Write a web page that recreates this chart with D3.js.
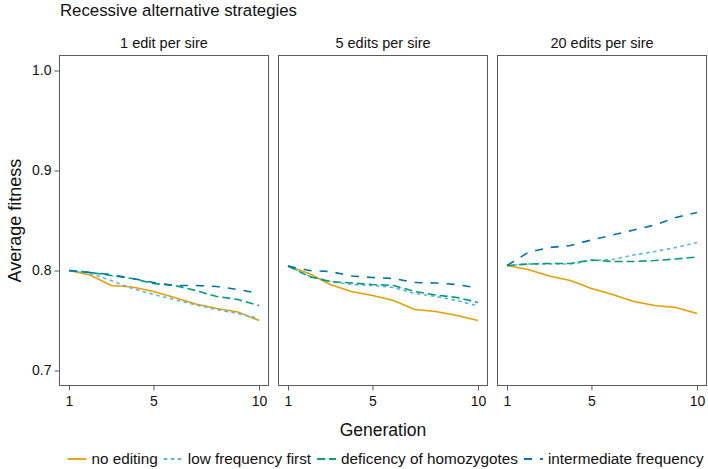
<!DOCTYPE html>
<html><head><meta charset="utf-8">
<script src="https://cdn.jsdelivr.net/npm/d3@7"></script>
<style>body{margin:0;background:#fff}svg{display:block}text{font-family:"Liberation Sans",Arial,Helvetica,sans-serif}</style>
</head><body><svg id="c" width="708" height="469"></svg>
<script>
const generations = [1,2,3,4,5,6,7,8,9,10];
const panelTitles = ["1 edit per sire","5 edits per sire","20 edits per sire"];
const strategies = ["no editing","low frequency first","deficency of homozygotes","intermediate frequency"];
const colors = ["#E69F00","#56B4E9","#009E73","#0072B2"];
const dashes = [null,"3.5,3.5","8,4","8,8"];
const yTicks = [0.7,0.8,0.9,1.0];
const xTicks = [1,5,10];
// values per panel [1 edit, 5 edits, 20 edits]
const noEditing = [
  [0.800,0.7955,0.785,0.7835,0.779,0.773,0.7665,0.762,0.7585,0.750],
  [0.8045,0.797,0.786,0.779,0.775,0.770,0.761,0.759,0.755,0.750],
  [0.805,0.801,0.7945,0.790,0.782,0.776,0.769,0.765,0.763,0.757]
];
const lowFrequencyFirst = [
  [0.800,0.797,0.790,0.782,0.776,0.771,0.7655,0.761,0.757,0.752],
  [0.8045,0.7945,0.789,0.786,0.785,0.783,0.777,0.774,0.770,0.7645],
  [0.805,0.8065,0.8065,0.8065,0.810,0.811,0.8155,0.819,0.823,0.828]
];
const deficiencyHomozygotes = [
  [0.800,0.798,0.795,0.792,0.787,0.785,0.780,0.774,0.771,0.765],
  [0.8045,0.794,0.789,0.7875,0.786,0.785,0.779,0.7755,0.773,0.768],
  [0.805,0.8065,0.807,0.807,0.8105,0.809,0.809,0.810,0.8115,0.8135]
];
const intermediateFrequency = [
  [0.800,0.798,0.796,0.792,0.788,0.785,0.785,0.784,0.781,0.777],
  [0.8045,0.800,0.799,0.7945,0.793,0.792,0.788,0.7875,0.786,0.7825],
  [0.805,0.818,0.823,0.825,0.8305,0.8355,0.8405,0.8455,0.853,0.858]
];
const seriesValues = [noEditing, lowFrequencyFirst, deficiencyHomozygotes, intermediateFrequency];

const svg = d3.select("#c");
const mLeft = 59.5, pw = 209, gap = 10, pTop = 55.5, pBottom = 385.5;
const grey = "#5a5a5a", txt = "#111";
const FF = '"Liberation Sans",Arial,sans-serif';
const y = d3.scaleLinear().domain([0.685,1.015]).range([pBottom, pTop]);

svg.append("text").attr("x",60).attr("y",16).attr("font-size",16.8).attr("fill",txt).text("Recessive alternative strategies");

panelTitles.forEach((title,p)=>{
  const x0 = mLeft + p*(pw+gap);
  const x = d3.scaleLinear().domain([0.55,10.45]).range([x0, x0+pw]);
  const g = svg.append("g");
  g.append("text").attr("x",x0+pw/2).attr("y",47.5).attr("text-anchor","middle").attr("font-size",14.5).attr("fill",txt).text(title);
  const line = d3.line().x((d,i)=>x(generations[i])).y(d=>y(d));
  seriesValues.forEach((vals,s)=>{
    const path = g.append("path").datum(vals[p]).attr("d",line).attr("fill","none")
      .attr("stroke",colors[s]).attr("stroke-width",1.6);
    if (dashes[s]) path.attr("stroke-dasharray",dashes[s]);
  });
  g.append("rect").attr("x",x0).attr("y",pTop).attr("width",pw).attr("height",pBottom-pTop)
    .attr("fill","none").attr("stroke",grey).attr("stroke-width",1);
  const xa = g.append("g").attr("transform",`translate(0,${pBottom})`)
    .call(d3.axisBottom(x).tickValues(xTicks).tickSize(5).tickPadding(6).tickFormat(d3.format("d")));
  xa.select(".domain").remove();
  xa.selectAll("line").attr("stroke",grey);
  xa.selectAll("text").attr("font-size",14).attr("fill",txt).attr("font-family",FF);
  if (p===0){
    const ya = g.append("g").attr("transform",`translate(${x0},0)`)
      .call(d3.axisLeft(y).tickValues(yTicks).tickSize(5).tickPadding(3).tickFormat(d3.format(".1f")));
    ya.select(".domain").remove();
    ya.selectAll("line").attr("stroke",grey);
    ya.selectAll("text").attr("font-size",14).attr("fill",txt).attr("font-family",FF);
  }
});

svg.append("text").attr("transform",`translate(21,${(pTop+pBottom)/2}) rotate(-90)`).attr("text-anchor","middle")
  .attr("font-size",18).attr("fill",txt).text("Average fitness");
svg.append("text").attr("x",mLeft+pw*1.5+gap).attr("y",436).attr("text-anchor","middle")
  .attr("font-size",17.5).attr("fill",txt).text("Generation");

// legend (centred)
const lg = svg.append("g");
let lx = 0; const ly = 464;
strategies.forEach((name,s)=>{
  const l = lg.append("line").attr("x1",lx).attr("x2",lx+19).attr("y1",ly-5).attr("y2",ly-5)
    .attr("stroke",colors[s]).attr("stroke-width",1.8);
  if (dashes[s]) l.attr("stroke-dasharray",dashes[s]);
  const t = lg.append("text").attr("x",lx+24).attr("y",ly).attr("font-size",15.3).attr("fill",txt).text(name);
  lx += 24 + t.node().getComputedTextLength() + (s<3 ? 6 : 0);
});
lg.attr("transform",`translate(${385.5 - lx/2},0)`);
</script></body></html>
